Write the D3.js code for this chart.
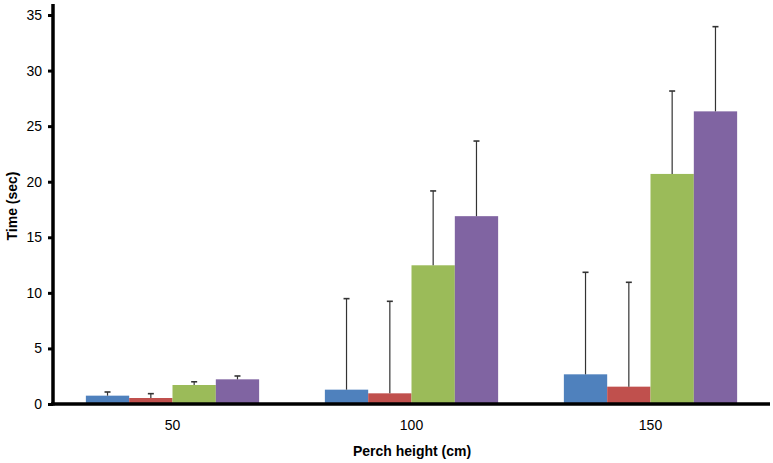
<!DOCTYPE html>
<html>
<head>
<meta charset="utf-8">
<script src="https://cdn.jsdelivr.net/npm/d3@7"></script>
<style>
  body { margin: 0; background: #fff; }
  text { font-family: "Liberation Sans", Arial, sans-serif; }
</style>
</head>
<body>
<svg id="chart"></svg>
<script>
const categories = ["50", "100", "150"]
const series = ["s1", "s2", "s3", "s4"]
const colors = ["#4F81BD", "#C0504D", "#9BBB59", "#8064A2"]
const means = [
  [0.75, 0.54, 1.71, 2.22],
  [1.29, 0.96, 12.48, 16.9],
  [2.67, 1.56, 20.7, 26.33],
]
const errTops = [
  [1.08, 0.93, 2.0, 2.52],
  [9.48, 9.24, 19.17, 23.66],
  [11.85, 10.95, 28.16, 33.95],
]
const yTicks = [0, 5, 10, 15, 20, 25, 30, 35]

const width = 773, height = 463
const axisX = 53
const svg = d3.select("#chart").attr("width", width).attr("height", height)

const x = d3.scaleBand().domain(categories).range([axisX, 770])
  .paddingInner(0.275).paddingOuter(0.1375)
const xs = d3.scaleBand().domain(series).range([0, x.bandwidth()])
const y = d3.scaleLinear().domain([0, 35]).range([404, 15])

const rows = []
categories.forEach((c, i) => {
  series.forEach((s, j) => {
    rows.push({ cat: c, s: s, j: j, v: means[i][j], e: errTops[i][j] })
  })
})

svg.append("g").selectAll("rect").data(rows).enter().append("rect")
  .attr("x", (d) => x(d.cat) + xs(d.s))
  .attr("width", xs.bandwidth())
  .attr("y", (d) => y(d.v))
  .attr("height", (d) => y(0) - y(d.v))
  .attr("fill", (d) => colors[d.j])

const err = svg.append("g").attr("stroke", "#333").attr("stroke-width", 1.2)
err.selectAll("line.v").data(rows).enter().append("line")
  .attr("class", "v")
  .attr("x1", (d) => x(d.cat) + xs(d.s) + xs.bandwidth() / 2)
  .attr("x2", (d) => x(d.cat) + xs(d.s) + xs.bandwidth() / 2)
  .attr("y1", (d) => y(d.v))
  .attr("y2", (d) => y(d.e))
err.selectAll("line.c").data(rows).enter().append("line")
  .attr("class", "c")
  .attr("x1", (d) => x(d.cat) + xs(d.s) + xs.bandwidth() / 2 - 3)
  .attr("x2", (d) => x(d.cat) + xs(d.s) + xs.bandwidth() / 2 + 3)
  .attr("y1", (d) => y(d.e))
  .attr("y2", (d) => y(d.e))
  .attr("stroke-width", 1.6)

// y axis
const yAxis = svg.append("g").attr("transform", `translate(${axisX},0)`)
  .call(d3.axisLeft(y).tickValues(yTicks).tickSize(5).tickPadding(6))
yAxis.select(".domain").remove()
yAxis.selectAll(".tick line").attr("stroke", "#000").attr("stroke-width", 3)
yAxis.selectAll(".tick text").attr("font-size", 14).attr("fill", "#000")
  .style("font-family", "Liberation Sans, Arial, sans-serif")
svg.append("line").attr("x1", axisX).attr("x2", axisX).attr("y1", 4).attr("y2", 405.5)
  .attr("stroke", "#000").attr("stroke-width", 3.5)

// x axis
svg.append("line").attr("x1", axisX - 2).attr("x2", 770).attr("y1", y(0)).attr("y2", y(0))
  .attr("stroke", "#000").attr("stroke-width", 3.5)
svg.append("g").selectAll("text").data(categories).enter().append("text")
  .attr("x", (d) => x(d) + x.bandwidth() / 2)
  .attr("y", 430)
  .attr("text-anchor", "middle")
  .attr("font-size", 14)
  .text((d) => d)

svg.append("text")
  .attr("x", 412).attr("y", 456)
  .attr("text-anchor", "middle")
  .attr("font-size", 14).attr("font-weight", "bold")
  .text("Perch height (cm)")

svg.append("text")
  .attr("transform", "translate(17,206) rotate(-90)")
  .attr("text-anchor", "middle")
  .attr("font-size", 14).attr("font-weight", "bold")
  .text("Time (sec)")
</script>
</body>
</html>
